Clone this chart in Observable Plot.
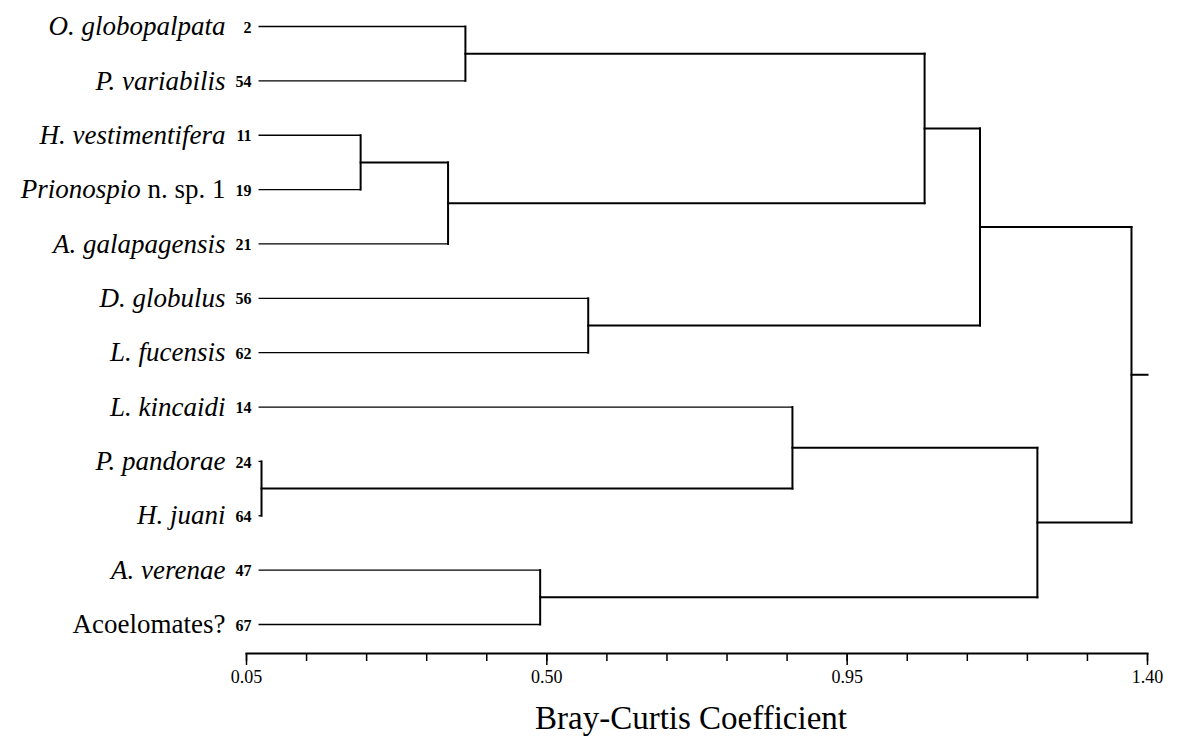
<!DOCTYPE html>
<html>
<head>
<meta charset="utf-8">
<script src="https://cdn.jsdelivr.net/npm/d3@7"></script>
<script src="https://cdn.jsdelivr.net/npm/@observablehq/plot@0.6"></script>
<style>
  html, body { margin: 0; padding: 0; background: #fff; }
  #chart svg { display: block; }
</style>
</head>
<body>
<div id="chart"></div>
<script>
// Taxa, in dendrogram leaf order (top to bottom)
const italicNames = ["O. globopalpata", "P. variabilis", "H. vestimentifera", "Prionospio", "A. galapagensis",
  "D. globulus", "L. fucensis", "L. kincaidi", "P. pandorae", "H. juani", "A. verenae", ""];
const plainNames = ["", "", "", " n. sp. 1", "", "", "", "", "", "", "", "Acoelomates?"];
const sampleIds = [2, 54, 11, 19, 21, 56, 62, 14, 24, 64, 47, 67];

// Agglomeration steps: clusters 0..11 are leaves, each merge creates cluster 12, 13, ...
const mergeA = [0, 2, 13, 12, 5, 15, 8, 7, 10, 19, 17];
const mergeB = [1, 3, 4, 14, 6, 16, 9, 18, 11, 20, 21];
const mergeHeight = [0.378, 0.221, 0.352, 1.066, 0.562, 1.149, 0.0725, 0.868, 0.490, 1.235, 1.376];

// Axis ticks (Bray-Curtis coefficient)
const majorTicks = [0.05, 0.50, 0.95, 1.40];
const minorTicks = [0.05, 0.14, 0.23, 0.32, 0.41, 0.50, 0.59, 0.68, 0.77, 0.86, 0.95, 1.04, 1.13, 1.22, 1.31, 1.40];

const leafTip = 0.068;   // where the leaf branches begin
const axisEnd = 1.40;    // root stub runs to the end of the axis

// Build node positions: x = coefficient, y = leaf order index (mean of children)
const nodes = italicNames.map((_, i) => ({x: leafTip, y: i, leaf: true}));
const leafSegs = [];
const branchSegs = [];
mergeA.forEach((a, k) => {
  const b = mergeB[k], h = mergeHeight[k];
  const na = nodes[a], nb = nodes[b];
  (na.leaf ? leafSegs : branchSegs).push({x1: na.x, y1: na.y, x2: h, y2: na.y});
  (nb.leaf ? leafSegs : branchSegs).push({x1: nb.x, y1: nb.y, x2: h, y2: nb.y});
  branchSegs.push({x1: h, y1: na.y, x2: h, y2: nb.y});
  nodes.push({x: h, y: (na.y + nb.y) / 2, leaf: false});
});
const root = nodes[nodes.length - 1];
branchSegs.push({x1: root.x, y1: root.y, x2: axisEnd, y2: root.y});

const leaves = italicNames.map((name, i) => ({
  i, name: name + plainNames[i], italic: name, plain: plainNames[i], id: String(sampleIds[i])
}));

const serif = "Liberation Serif, Times New Roman, serif";

const chart = Plot.plot({
  width: 1178,
  height: 737,
  marginLeft: 246,
  marginRight: 31,
  marginTop: 26,
  marginBottom: 84,
  style: {fontFamily: serif, color: "#000", background: "#fff"},
  x: {domain: [0.05, 1.40], axis: null},
  y: {domain: [0, 11], range: [26, 624], axis: null},
  marks: [
    Plot.link(leafSegs, {x1: "x1", y1: "y1", x2: "x2", y2: "y2", stroke: "#000", strokeWidth: 1.3}),
    Plot.link(branchSegs, {x1: "x1", y1: "y1", x2: "x2", y2: "y2", stroke: "#000", strokeWidth: 2, strokeLinecap: "square"}),
    Plot.text(leaves, {
      x: () => leafTip, y: "i", text: "name", textAnchor: "end", dx: -33,
      fontSize: 27, fontFamily: serif, fill: "#000"
    }),
    Plot.text(leaves, {
      x: () => leafTip, y: "i", text: "id", textAnchor: "end", dx: -7, dy: 1,
      fontSize: 16, fontWeight: "bold", fontFamily: serif, fill: "#000"
    }),
    Plot.frame({anchor: "bottom", stroke: "#000", strokeWidth: 2}),
    Plot.axisX(minorTicks, {tickSize: 8, strokeWidth: 1.5, stroke: "#000", fill: "none", label: null}),
    Plot.axisX(majorTicks, {
      tickSize: 12, tickPadding: 5, strokeWidth: 1.5, stroke: "#000", fill: "#000",
      fontSize: 18, fontFamily: serif, tickFormat: d => d.toFixed(2), label: null
    }),
    Plot.text(["Bray-Curtis Coefficient"], {
      frameAnchor: "bottom", dx: -6, dy: 65, fontSize: 33, fontFamily: serif, fill: "#000", lineAnchor: "middle"
    })
  ]
});

// Taxon names mix italic binomials with roman qualifiers: split into tspans
d3.select(chart).selectAll("text").each(function() {
  const full = this.textContent;
  const leaf = leaves.find(d => d.name === full);
  if (!leaf) return;
  const t = d3.select(this);
  t.text(null);
  if (leaf.italic) t.append("tspan").attr("font-style", "italic").text(leaf.italic);
  if (leaf.plain) t.append("tspan").attr("font-style", "normal").text(leaf.plain);
});

document.getElementById("chart").appendChild(chart);
</script>
</body>
</html>
